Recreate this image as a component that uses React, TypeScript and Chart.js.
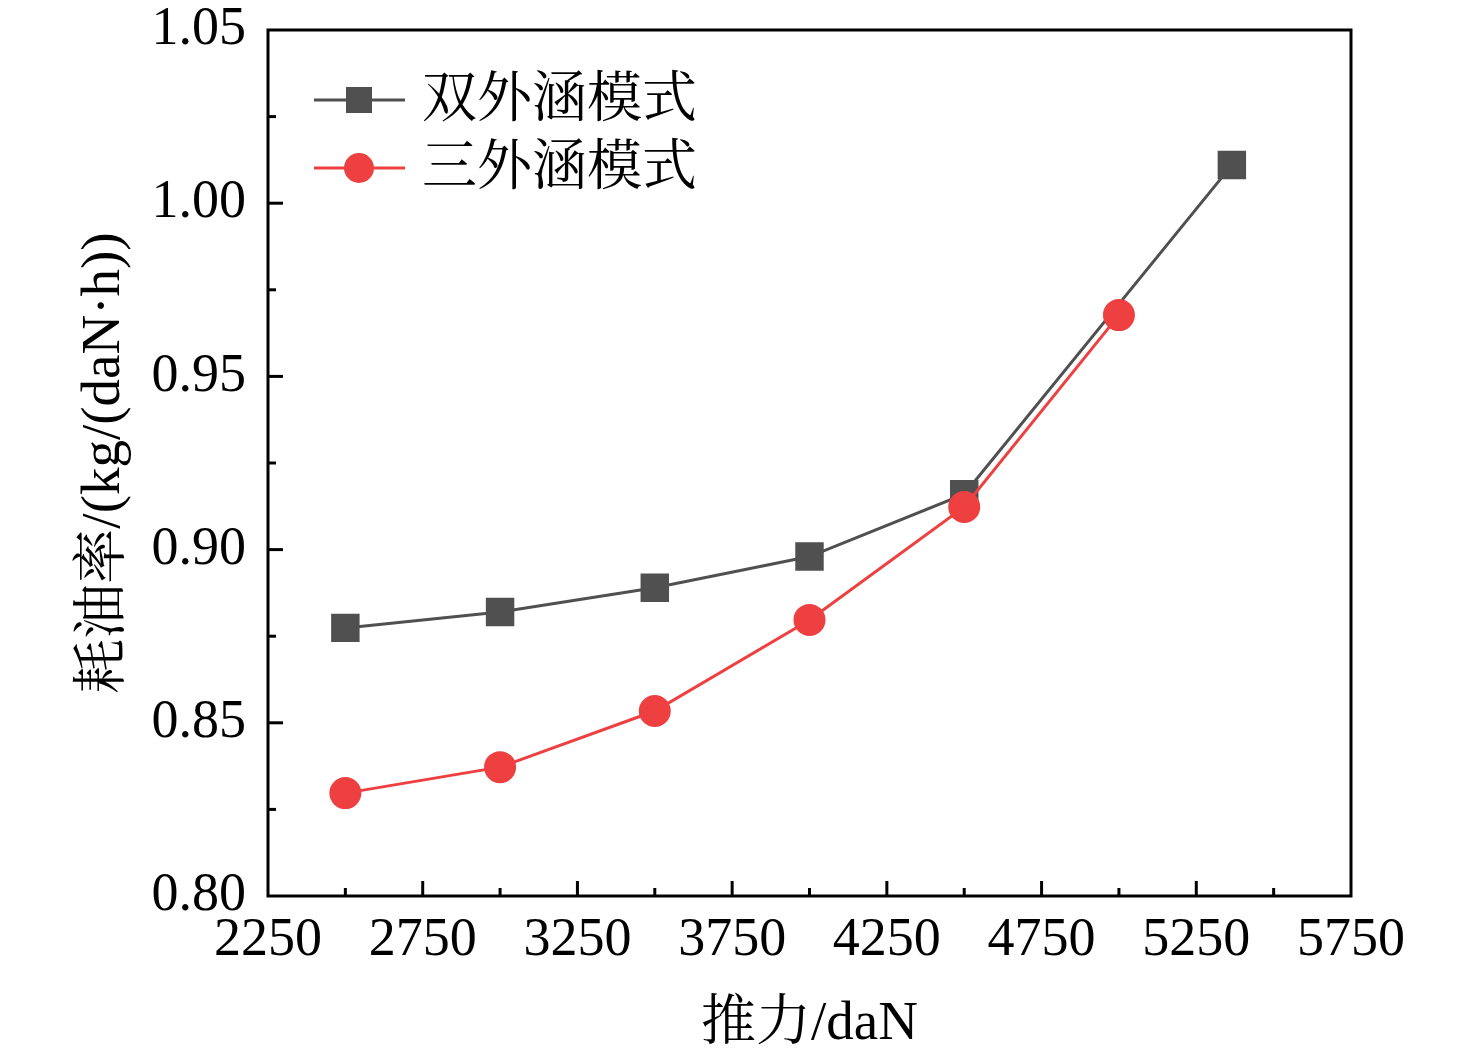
import React, { useEffect, useRef } from "react";
import { Chart, registerables } from "chart.js";

Chart.register(...registerables);

const dualThrust = [2500, 3000, 3500, 4000, 4500, 5365];
const dualBypass = [0.8774, 0.882, 0.889, 0.898, 0.916, 1.011];
const tripleThrust = [2500, 3000, 3500, 4000, 4500, 5000];
const tripleBypass = [0.8297, 0.8372, 0.8534, 0.8797, 0.9123, 0.9677];
const seriesNames = ["双外涵模式", "三外涵模式"];
const seriesColors = ["#505050", "#EE4040"];
const xTitle = "推力/daN";
const yTitle = "耗油率/(kg/(daN·h))";

const SERIF = "'Liberation Serif', 'Times New Roman', 'Noto Serif CJK SC', 'Noto Sans CJK SC', serif";

const framePlugin = {
  id: "frame",
  afterDraw(chart: any) {
    const { ctx, chartArea } = chart;
    const { left, right, top, bottom } = chartArea;
    ctx.save();
    ctx.strokeStyle = "#000";
    ctx.lineWidth = 3;
    const xs = chart.scales.x;
    xs.ticks.forEach((t: any, i: number) => {
      const px = xs.getPixelForTick(i);
      if (px <= left + 1 || px >= right - 1) return;
      const major = (t.value - 2250) % 500 === 0;
      ctx.beginPath();
      ctx.moveTo(px, bottom);
      ctx.lineTo(px, bottom - (major ? 15 : 8));
      ctx.stroke();
    });
    const ys = chart.scales.y;
    ys.ticks.forEach((t: any, i: number) => {
      const py = ys.getPixelForTick(i);
      if (py <= top + 1 || py >= bottom - 1) return;
      const major = Math.round(t.value * 1000) % 50 === 0;
      ctx.beginPath();
      ctx.moveTo(left, py);
      ctx.lineTo(left + (major ? 15 : 8), py);
      ctx.stroke();
    });
    ctx.strokeRect(left, top, right - left, bottom - top);

    const rows = [100, 168];
    chart.data.datasets.forEach((ds: any, i: number) => {
      const y = rows[i];
      ctx.strokeStyle = ds.borderColor;
      ctx.lineWidth = 3;
      ctx.beginPath();
      ctx.moveTo(314, y);
      ctx.lineTo(405, y);
      ctx.stroke();
      ctx.fillStyle = ds.backgroundColor;
      if (ds.pointStyle === "rect") {
        ctx.fillRect(359 - 13, y - 13, 26, 26);
      } else {
        ctx.beginPath();
        ctx.arc(359, y, 15, 0, Math.PI * 2);
        ctx.fill();
      }
      ctx.fillStyle = "#000";
      ctx.font = `55px ${SERIF}`;
      ctx.textBaseline = "middle";
      ctx.textAlign = "left";
      ctx.fillText(ds.label, 422, y + 2);
    });
    ctx.restore();
  },
};

export default function App() {
  const ref = useRef<HTMLCanvasElement>(null);
  useEffect(() => {
    document.body.style.margin = "0";
    const chart = new Chart(ref.current!, {
      type: "line",
      data: {
        datasets: [
          {
            label: seriesNames[0],
            data: dualThrust.map((x, i) => ({ x, y: dualBypass[i] })),
            borderColor: seriesColors[0],
            backgroundColor: seriesColors[0],
            borderWidth: 3,
            pointStyle: "rect",
            pointRadius: 18,
            pointHoverRadius: 18,
            order: 2,
          },
          {
            label: seriesNames[1],
            data: tripleThrust.map((x, i) => ({ x, y: tripleBypass[i] })),
            borderColor: seriesColors[1],
            backgroundColor: seriesColors[1],
            borderWidth: 3,
            pointStyle: "circle",
            pointRadius: 14.5,
            pointHoverRadius: 14.5,
            order: 1,
          },
        ],
      },
      options: {
        animation: false,
        responsive: false,
        devicePixelRatio: 1,
        layout: { padding: { top: 30, right: 125, left: 72, bottom: 0 } },
        plugins: { legend: { display: false }, tooltip: { enabled: false } },
        scales: {
          x: {
            type: "linear",
            min: 2250,
            max: 5750,
            grid: { display: false, drawTicks: false },
            border: { display: false },
            ticks: {
              stepSize: 250,
              autoSkip: false,
              maxRotation: 0,
              padding: 12,
              color: "#000",
              font: { family: SERIF, size: 54 },
              callback: (v: any) => ((v - 2250) % 500 === 0 ? String(v) : ""),
            },
            title: {
              display: true,
              text: xTitle,
              color: "#000",
              font: { family: SERIF, size: 55 },
              padding: { top: 10, bottom: 0 },
            },
            afterFit: (s: any) => {
              s.height = 162;
              s.paddingLeft = 0;
              s.paddingRight = 0;
            },
          },
          y: {
            type: "linear",
            min: 0.8,
            max: 1.05,
            grid: { display: false, drawTicks: false },
            border: { display: false },
            ticks: {
              stepSize: 0.025,
              autoSkip: false,
              padding: 22,
              color: "#000",
              font: { family: SERIF, size: 54 },
              callback: (v: any) =>
                Math.round(v * 1000) % 50 === 0 ? Number(v).toFixed(2) : "",
            },
            title: {
              display: true,
              text: yTitle,
              color: "#000",
              font: { family: SERIF, size: 55 },
              padding: { top: 0, bottom: 0 },
            },
            afterFit: (s: any) => {
              s.width = 196;
              s.paddingTop = 0;
              s.paddingBottom = 0;
            },
          },
        },
      },
      plugins: [framePlugin],
    });
    return () => chart.destroy();
  }, []);
  return (
    <div style={{ width: 1476, height: 1058 }}>
      <canvas ref={ref} width={1476} height={1058} style={{ display: "block" }} />
    </div>
  );
}
